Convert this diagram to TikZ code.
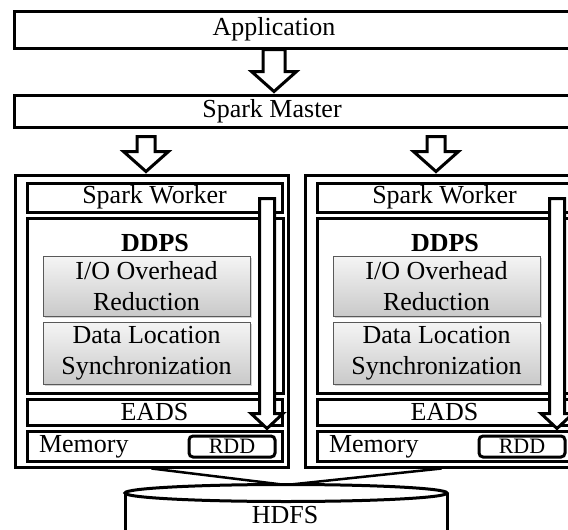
\documentclass[tikz,border=0pt]{standalone}
\usepackage{fontspec}
\setmainfont{Liberation Serif}
\usetikzlibrary{calc,shadows}

\newcommand{\blockarrow}[5]{%
  \draw[fatline] let \p1=(#1), \p2=(#2) in
    (\x1-#3,\y1) -- (\x1-#3,\y2+#5) -- (\x1-#4,\y2+#5) -- (\x1,\y2)
    -- (\x1+#4,\y2+#5) -- (\x1+#3,\y2+#5) -- (\x1+#3,\y1) -- cycle;}

\begin{document}
\begin{tikzpicture}[x=1pt,y=-1pt,
	font=\fontsize{26}{31}\selectfont,
	bar/.style={draw,line width=3pt,fill=white,inner sep=0pt},
	part/.style={draw=gray!70!black,line width=0.8pt,top color=gray!8,bottom color=gray!42,
		drop shadow={opacity=0.35,shadow xshift=1.5pt,shadow yshift=-1.5pt},align=center,inner sep=0pt},
	fatline/.style={line width=3pt,fill=white,line join=miter}]
	\useasboundingbox (0,0) rectangle (568,530);
	\clip (0,0) rectangle (568,530);
	\node[bar,minimum width=586,minimum height=37] (app) at (307,29.5) {};
	\node (apptxt) at (274,29.5) {Application};
	\node[bar,minimum width=586,minimum height=32] (master) at (307,111) {};
	\node (mastertxt) at (272,111) {Spark Master};
	\blockarrow{apptxt.south |- app.south}{$(master.north)+(0,-2)$}{11}{22.5}{20}
	\foreach \dx in {0,290}{
		\node[bar,minimum width=273,minimum height=292] (w\dx) at (151.5+\dx,321) {};
		\blockarrow{$(master.south -| w\dx.north)+(-5.5,8)$}{$(w\dx.north)+(0,-2)$}{9}{22.5}{20}
		\node[bar,minimum width=255,minimum height=29] (sw\dx) at (154.5+\dx,197.5) {Spark Worker};
		\node[bar,minimum width=256,minimum height=175] (ddps\dx) at (155+\dx,305.5) {};
		\node[font=\fontsize{26}{31}\selectfont\bfseries] (ddpstxt\dx) at (155+\dx,243) {DDPS};
		\node[part,minimum width=207,minimum height=60] (io\dx) at (146.5+\dx,286) {I/O Overhead\\Reduction};
		\node[part,minimum width=207,minimum height=62] (dls\dx) at (146.5+\dx,353) {Data Location\\Synchronization};
		\node[bar,minimum width=255,minimum height=26] (eads\dx) at (154.5+\dx,412) {EADS};
		\node[bar,minimum width=255,minimum height=30] (mem\dx) at (154.5+\dx,446) {};
		\node[anchor=west] (memtxt\dx) at ($(mem\dx.west)+(10,1)$) {Memory};
		\node[bar,rounded corners=4pt,minimum width=86,minimum height=21,font=\fontsize{22}{26}\selectfont] (rdd\dx) at (232+\dx,446.5) {RDD};
		\blockarrow{$(sw\dx.east)+(-16.5,1)$}{$(mem\dx.north)+(0,-1)$}{7.5}{16}{15}
	}
	\coordinate (hdfstop) at (286,485);
	\draw[line width=2.5pt] (w0.south) -- (hdfstop) -- (w290.south);
	\draw[line width=3pt,fill=white] (125,493) -- (125,545) -- (447,545) -- (447,493);
	\draw[line width=3pt,fill=white] (286,493) ellipse (161 and 8.5);
	\node (hdfs) at (285,515) {HDFS};
\end{tikzpicture}
\end{document}
